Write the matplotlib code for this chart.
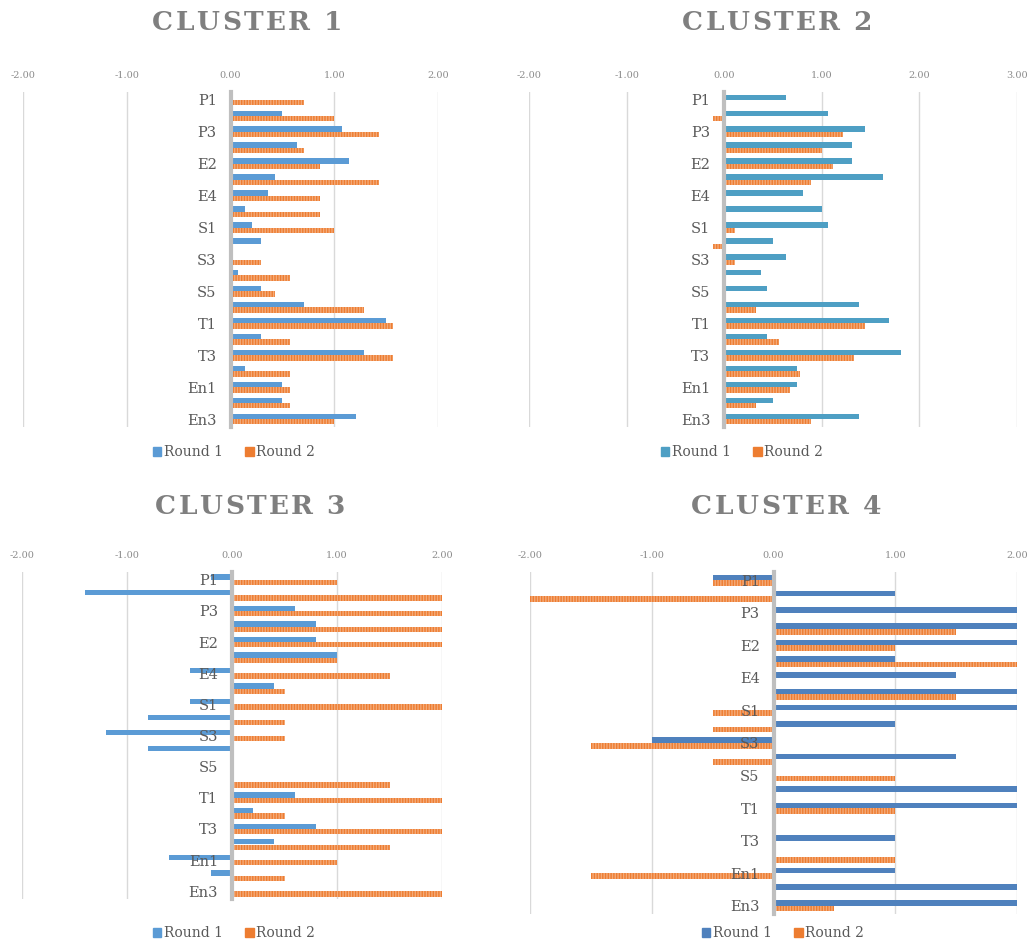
import matplotlib.pyplot as plt
from matplotlib.patches import Patch
import numpy as np

plt.rcParams['font.family'] = ['DejaVu Serif']
plt.rcParams['hatch.linewidth'] = 1.0

categories = ['P1', 'P2', 'P3', 'E1', 'E2', 'E3', 'E4', 'E5', 'S1', 'S2', 'S3',
              'S4', 'S5', 'S6', 'T1', 'T2', 'T3', 'T4', 'En1', 'En2', 'En3']
series_names = ['Round 1', 'Round 2']

# values
c1_round1 = [0, 0.50, 1.07, 0.64, 1.14, 0.43, 0.36, 0.14, 0.21, 0.29, 0, 0.07,
             0.29, 0.71, 1.50, 0.29, 1.29, 0.14, 0.50, 0.50, 1.21]
c1_round2 = [0.71, 1.00, 1.43, 0.71, 0.86, 1.43, 0.86, 0.86, 1.00, 0, 0.29, 0.57,
             0.43, 1.29, 1.57, 0.57, 1.57, 0.57, 0.57, 0.57, 1.00]

c2_round1 = [0.63, 1.06, 1.44, 1.31, 1.31, 1.63, 0.81, 1.00, 1.06, 0.50, 0.63, 0.38,
             0.44, 1.38, 1.69, 0.44, 1.81, 0.75, 0.75, 0.50, 1.38]
c2_round2 = [0, -0.11, 1.22, 1.00, 1.11, 0.89, 0, 0, 0.11, -0.11, 0.11, 0,
             0, 0.33, 1.44, 0.56, 1.33, 0.78, 0.67, 0.33, 0.89]

c3_round1 = [-0.2, -1.4, 0.6, 0.8, 0.8, 1.0, -0.4, 0.4, -0.4, -0.8, -1.2, -0.8,
             0, 0, 0.6, 0.2, 0.8, 0.4, -0.6, -0.2, 0]
c3_round2 = [1.0, 2.0, 2.0, 2.0, 2.0, 1.0, 1.5, 0.5, 2.0, 0.5, 0.5, 0,
             0, 1.5, 2.0, 0.5, 2.0, 1.5, 1.0, 0.5, 2.0]

c4_round1 = [-0.5, 1.0, 2.0, 2.0, 2.0, 1.0, 1.5, 2.0, 2.0, 1.0, -1.0, 1.5,
             0, 2.0, 2.0, 0, 1.0, 0, 1.0, 2.0, 2.0]
c4_round2 = [-0.5, -2.0, 0, 1.5, 1.0, 2.0, 0, 1.5, -0.5, -0.5, -1.5, -0.5,
             1.0, 0, 1.0, 0, 0, 1.0, -1.5, 0, 0.5]

ticks_4 = [-2, -1, 0, 1, 2]
ticks_5 = [-2, -1, 0, 1, 2, 3]

W, H = 1036, 944
fig = plt.figure(figsize=(W / 100, H / 100), dpi=100)

orange = '#ED7D31'
grey_txt = '#595959'

# title, round1, round2, ticks, blue, plot box (px), title centre, legend centre
panels = [
    ('CLUSTER 1', c1_round1, c1_round2, ticks_4, '#5B9BD5', (23, 438, 92, 427), (247, 22), (234, 452)),
    ('CLUSTER 2', c2_round1, c2_round2, ticks_5, '#4E9FC4', (529, 1017, 92, 427), (777, 22), (742, 452)),
    ('CLUSTER 3', c3_round1, c3_round2, ticks_4, '#5B9BD5', (22, 442, 572, 899), (250, 507), (234, 933)),
    ('CLUSTER 4', c4_round1, c4_round2, ticks_4, '#4F81BD', (530, 1017, 572, 914), (786, 507), (783, 933)),
]


def spaced_title(text, cx, cy, target_w):
    # Excel-style letter spacing: place each letter by hand
    r = fig.canvas.get_renderer()
    parts = [fig.text(0, 1 - cy / H, ch, fontsize=19, fontweight='bold',
                      color='#7F7F7F', ha='left', va='center') for ch in text]
    widths = [p.get_window_extent(r).width for p in parts]
    gap = (target_w - sum(widths)) / (len(parts) - 1)
    x = cx - target_w / 2
    for p, w in zip(parts, widths):
        p.set_x(x / W)
        x += w + gap


y = np.arange(len(categories))
h = 0.34

for title, r1, r2, ticks, blue, (l, r, t, b), (tx, ty), (lx, ly) in panels:
    ax = fig.add_axes([l / W, 1 - b / H, (r - l) / W, (b - t) / H])
    for v in ticks:
        if v != 0:
            ax.axvline(v, color='#D9D9D9', linewidth=1, zorder=0)
    # bars at zorder 1 so the category labels (axis, 1.5) sit on top
    ax.barh(y - h / 2, r1, height=h, color=blue, zorder=1)
    ax.barh(y + h / 2, r2, height=h, color=orange, edgecolor='#F4AA78',
            linewidth=0, hatch='||||||', zorder=1)
    ax.set_xlim(ticks[0], ticks[-1])
    ax.set_ylim(len(categories) - 0.5, -0.5)

    ax.set_xticks(ticks)
    ax.set_xticklabels(['%.2f' % v for v in ticks])
    ax.xaxis.tick_top()
    ax.tick_params(axis='x', length=0, pad=9, labelsize=7, labelcolor='#8C8C8C')

    ax.set_yticks(y[::2])
    ax.set_yticklabels(categories[::2])
    ax.tick_params(axis='y', length=0, pad=10, labelsize=10.5, labelcolor=grey_txt)

    for s in ['top', 'right', 'bottom']:
        ax.spines[s].set_visible(False)
    ax.spines['left'].set_position(('data', 0))
    ax.spines['left'].set_color('#BFBFBF')
    ax.spines['left'].set_linewidth(3)
    ax.spines['left'].set_zorder(3)

    handles = [Patch(color=blue, label=series_names[0]),
               Patch(color=orange, label=series_names[1])]
    fig.legend(handles=handles, loc='center', bbox_to_anchor=(lx / W, 1 - ly / H),
               ncol=2, frameon=False, fontsize=10, labelcolor=grey_txt,
               handlelength=0.6, handleheight=0.6, handletextpad=0.2,
               columnspacing=1.6)

    spaced_title(title, tx, ty, 190)

fig.savefig('out.png', dpi=100)
